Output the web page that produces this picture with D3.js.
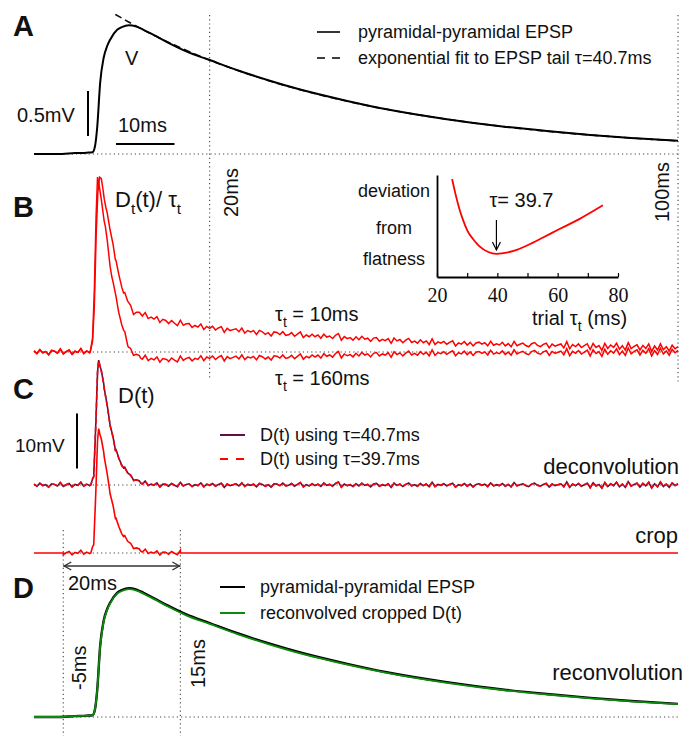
<!DOCTYPE html>
<html><head><meta charset="utf-8">
<script src="https://cdn.jsdelivr.net/npm/d3@7"></script>
<style>
body{margin:0;background:#fff}
svg{display:block;background:#fff}
text{font-family:"Liberation Sans",Arial,Helvetica,sans-serif;fill:#111}
</style>
</head><body>
<svg id="fig" width="692" height="736"></svg>
<script>
// ---------------- data ----------------
// Panel A / D : pyramidal-pyramidal EPSP (time ms, mV)
const epspT = [-10,-6,-3,-1,0,0.4,0.8,1.3,1.9,2.5,3,4.2,5,6.2,7.5,8.7,10.5,12.8,16,20,25,30,35,43.5,50,60.5,70,77.6,85,92,100];
const epspV = [0,0,0.01,0.015,0.02,0.08,0.3,0.79,1.07,1.2,1.27,1.38,1.41,1.43,1.415,1.38,1.32,1.24,1.14,1.044,0.925,0.82,0.725,0.59,0.50,0.387,0.306,0.255,0.212,0.178,0.146];
// exponential fit to tail (tau = 40.7 ms)
const fitT = [3.9,6,8,10,15,20,30,40,50,60,70,80,90,100];
const fitV = [1.551,1.473,1.402,1.335,1.181,1.044,0.817,0.639,0.500,0.391,0.306,0.239,0.187,0.146];
// Panel D : reconvolved cropped D(t)
const reconvV = [0,0,0.01,0.015,0.02,0.08,0.3,0.78,1.06,1.19,1.26,1.37,1.40,1.42,1.405,1.37,1.31,1.23,1.13,1.034,0.915,0.81,0.715,0.582,0.493,0.38,0.30,0.25,0.207,0.173,0.142];
// Panel B : D_t(t)/tau_t for trial tau 10 ms and 160 ms (smooth part)
const b10T = [-10,-0.4,0,0.3,0.6,0.9,1.2,1.4,1.8,2.3,3.0,3.9,5.3,7,10,13,20,30,43.5,60,77,100];
const b10V = [0,0,0.03,0.15,0.38,0.53,0.583,0.58,0.54,0.48,0.417,0.307,0.197,0.133,0.115,0.1,0.08,0.063,0.047,0.03,0.023,0.013];
const b160T = [-10,-0.4,0,0.3,0.6,0.85,1.1,1.5,2.2,3.3,4.4,5.3,6.1,7,8.2,12.8,20,35,43.5,60,100];
const b160V = [0,0,0.04,0.2,0.45,0.583,0.56,0.5,0.417,0.25,0.14,0.073,0.017,-0.003,-0.02,-0.027,-0.02,-0.017,-0.01,-0.004,0];
// Panel C : D(t) in mV (smooth part)
const dT = [-10,-0.3,0.2,0.6,0.85,1.05,1.3,1.9,2.8,3.9,5.3,6.8,8.2,10,12,100];
const dPurpleV = [0,0,1.5,12.4,20.5,22.7,21.5,18.5,12.4,6.4,3.1,1.3,0.4,0.1,0,0];
const dRedV = [0,0,1.5,12.3,20.4,22.6,21.4,18.4,12.3,6.3,3.0,1.25,0.38,0.1,0,0];
// recording noise seen on the deconvolved traces, every 0.5 ms from -10 to 100 ms
const noiseStart = -10, noiseStep = 0.5;
const noise = [
0.3,-0.4,0.6,-0.2,0.1,-0.7,0.4,0.2,-0.3,0.8,
-0.5,0.1,0.5,-0.6,0.2,-0.1,0.9,-0.4,0.3,-0.2,
0.4,-0.3,0.1,0.6,-0.5,0.2,-0.8,0.3,0.5,-0.2,
-0.4,0.7,-0.1,0.3,-0.6,0.2,0.4,-0.3,0.8,-0.5,
0.1,-0.2,0.6,-0.7,0.3,0.2,-0.4,0.5,-0.1,-0.6,
0.9,-0.3,0.2,0.4,-0.5,0.1,-0.2,0.7,-0.6,0.3,
-0.1,0.5,-0.4,0.2,0.6,-0.8,0.3,-0.2,0.1,0.4,
-0.3,0.7,-0.5,0.2,-0.1,0.3,-0.6,0.5,0.2,-0.4,
0.1,-0.7,0.4,0.3,-0.2,0.6,-0.3,-0.1,0.5,-0.4,
0.2,0.8,-0.6,0.1,-0.3,0.4,-0.2,0.3,-0.5,0.6,
-0.1,0.2,-0.4,0.5,1.0,-0.7,0.3,-0.2,0.1,-0.5,
0.4,-0.3,0.6,-0.1,0.2,-0.6,0.3,0.5,-0.4,0.1,
-0.2,0.4,-0.8,0.6,-0.1,0.3,-0.5,0.2,0.7,-0.3,
0.1,-0.4,0.5,-0.2,0.3,-0.6,0.9,-0.5,0.2,-0.1,
0.4,-0.3,0.2,0.6,-0.7,0.1,-0.2,0.5,-0.4,0.3,
-0.6,0.2,0.4,-0.1,0.3,-0.5,0.7,-0.3,0.1,-0.2,
0.5,-0.4,0.2,-0.6,0.8,-0.3,0.1,0.4,-0.2,-0.5,
0.3,0.6,-0.1,-0.4,0.2,0.5,-0.7,0.3,-0.2,0.1,
0.4,-0.6,1.0,-0.8,0.3,-0.2,0.5,-0.4,0.1,0.6,
-0.9,0.7,-0.3,0.2,-1.0,0.8,-0.5,0.4,-0.2,0.9,
-0.6,0.3,-0.8,1.1,-0.4,0.2,0.6,-0.7,0.5,-0.3,
0.9,-1.0,0.4,-0.6,1.0,-0.5,0.3,-0.8,0.7,-0.2,
0.4];
const noiseAmpB = 0.013;   // units of panel B
const noiseAmpC = 0.55;    // mV
// crop window
const cropWindow = [-5, 15];
// Inset: deviation from flatness vs trial tau
const insetT = [25,26,27.4,28.5,30.1,32,34,37,39.6,42,45.1,51.8,55,60.6,67.3,75];
const insetV = [0.96,0.83,0.67,0.57,0.453,0.37,0.303,0.245,0.227,0.233,0.253,0.337,0.385,0.47,0.57,0.703];
const insetTicks = [20,30,40,50,60,70,80];
const insetBestTau = 39.7;

// ---------------- drawing ----------------
const svg = d3.select('#fig');
const RED = '#ff0000', PURPLE = '#5e1148', GREEN = '#0b8a0b', DOT = '#444';

const x = d3.scaleLinear().domain([-10,100]).range([34,678]);
const yA = d3.scaleLinear().domain([0,1]).range([154,64]);
const yB = d3.scaleLinear().domain([0,1]).range([352,52]);
const yC = d3.scaleLinear().domain([0,10]).range([485,430]);
const yCrop = d3.scaleLinear().domain([0,10]).range([553,498]);
const yD = d3.scaleLinear().domain([0,1]).range([717,627]);

const noiseT = noise.map((_, i) => noiseStart + i*noiseStep);
function noisyTrace(keyT, keyV, amp, t0, t1){
  const clean = d3.scaleLinear().domain(keyT).range(keyV).clamp(true);
  const pts = [];
  noiseT.forEach((t,i)=>{ if(t>=t0-1e-9 && t<=t1+1e-9) pts.push([t, clean(t) + noise[i]*amp]); });
  keyT.forEach(t=>{ if(t>t0 && t<t1 && Math.abs((t-noiseStart)/noiseStep - Math.round((t-noiseStart)/noiseStep))>1e-6) pts.push([t, clean(t)]); });
  pts.sort((a,b)=>a[0]-b[0]);
  return pts;
}
function dotted(x1,y1,x2,y2){
  svg.append('line').attr('x1',x1).attr('y1',y1).attr('x2',x2).attr('y2',y2)
    .attr('stroke',DOT).attr('stroke-width',1.1).attr('stroke-dasharray','1.2,3');
}
function rich(x0,y0,parts,size,anchor){
  const t = svg.append('text').attr('x',x0).attr('y',y0).attr('font-size',size);
  if(anchor) t.attr('text-anchor',anchor);
  let sub=false;
  parts.forEach(p=>{
    const s=t.append('tspan').text(p.t);
    if(p.sub){ s.attr('font-size',size*0.7); if(!sub){ s.attr('dy',size*0.32); sub=true; } }
    else if(sub){ s.attr('dy',-size*0.32); sub=false; }
  });
  return t;
}
function label(x0,y0,txt,size,opts={}){
  const t=svg.append('text').attr('x',x0).attr('y',y0).attr('font-size',size).text(txt);
  if(opts.anchor) t.attr('text-anchor',opts.anchor);
  if(opts.bold) t.attr('font-weight','bold');
  if(opts.family) t.style('font-family',opts.family);
  return t;
}
function vlabel(x0,y0,txt,size){
  svg.append('text').attr('transform',`translate(${x0},${y0}) rotate(-90)`).attr('font-size',size).text(txt);
}

// dotted reference lines
dotted(x(-10),yA(0),x(100),yA(0));
dotted(x(-10),yB(0),x(100),yB(0));
dotted(x(-10),yC(0),x(100),yC(0));
dotted(x(cropWindow[0]),yCrop(0),x(cropWindow[1]),yCrop(0));
dotted(x(-10),yD(0),x(100),yD(0));
dotted(x(20),15,x(20),378);
dotted(x(100),15,x(100),383);
dotted(x(cropWindow[0]),530,x(cropWindow[0]),736);
dotted(x(cropWindow[1]),530,x(cropWindow[1]),736);

// ---- Panel A
const lineA = d3.line().curve(d3.curveMonotoneX).x(d=>x(d[0])).y(d=>yA(d[1]));
svg.append('path').attr('d',lineA(d3.zip(fitT,fitV))).attr('fill','none').attr('stroke','#111').attr('stroke-width',1.6).attr('stroke-dasharray','7,4');
svg.append('path').attr('d',lineA(d3.zip(epspT,epspV))).attr('fill','none').attr('stroke','#000').attr('stroke-width',2);
label(13,36,'A',29,{bold:true});
label(125,65,'V',20);
// scale bars
svg.append('line').attr('x1',88).attr('x2',88).attr('y1',yA(0.2)).attr('y2',yA(0.7)).attr('stroke','#000').attr('stroke-width',2);
label(17,122,'0.5mV',20);
svg.append('line').attr('x1',x(4)).attr('x2',x(14)).attr('y1',144).attr('y2',144).attr('stroke','#000').attr('stroke-width',2);
label(118,132,'10ms',20);
// legend A
svg.append('line').attr('x1',317).attr('x2',340).attr('y1',32).attr('y2',32).attr('stroke','#000').attr('stroke-width',1.6);
svg.append('line').attr('x1',317).attr('x2',340).attr('y1',58).attr('y2',58).attr('stroke','#000').attr('stroke-width',1.6).attr('stroke-dasharray','8,7');
label(358,38,'pyramidal-pyramidal EPSP',18);
label(358,64,'exponential fit to EPSP tail τ=40.7ms',18);

// ---- Panel B
const lineB = d3.line().x(d=>x(d[0])).y(d=>yB(d[1]));
svg.append('path').attr('d',lineB(noisyTrace(b160T,b160V,noiseAmpB,-10,100))).attr('fill','none').attr('stroke',RED).attr('stroke-width',1.5);
svg.append('path').attr('d',lineB(noisyTrace(b10T,b10V,noiseAmpB,-10,100))).attr('fill','none').attr('stroke',RED).attr('stroke-width',1.5);
label(13,217,'B',29,{bold:true});
rich(115,207,[{t:'D'},{t:'t',sub:true},{t:'(t)/ τ'},{t:'t',sub:true}],22);
rich(275,321,[{t:'τ'},{t:'t',sub:true},{t:' = 10ms'}],20);
rich(275,385,[{t:'τ'},{t:'t',sub:true},{t:' = 160ms'}],20);
vlabel(x(20)+28,217,'20ms',20);
vlabel(x(100)-9,222,'100ms',20);

// inset
const xi = d3.scaleLinear().domain([20,80]).range([437,618]);
const yi = d3.scaleLinear().domain([0,1]).range([277,175]);
const gi = svg.append('g');
const ax = gi.append('g').attr('transform','translate(0,277)')
  .call(d3.axisBottom(xi).tickValues(insetTicks).tickSizeInner(-4).tickSizeOuter(0).tickPadding(11)
  .tickFormat(d=> d%20===0 ? d : ''));
ax.select('.domain').attr('stroke','#000').attr('stroke-width',1.8);
ax.selectAll('.tick line').attr('stroke','#000').attr('stroke-width',1.2);
ax.selectAll('.tick text').attr('font-size',20).style('font-family','"Liberation Serif","Times New Roman",serif').attr('fill','#111');
const ay = gi.append('g').attr('transform','translate(437,0)').call(d3.axisLeft(yi).tickValues([]).tickSizeOuter(0));
ay.select('.domain').attr('stroke','#000').attr('stroke-width',1.8);
gi.append('path').attr('d',d3.line().curve(d3.curveMonotoneX).x(d=>xi(d[0])).y(d=>yi(d[1]))(d3.zip(insetT,insetV)))
  .attr('fill','none').attr('stroke',RED).attr('stroke-width',1.8);
label(394,197,'deviation',18,{anchor:'middle'});
label(394,234,'from',18,{anchor:'middle'});
label(394,265,'flatness',18,{anchor:'middle'});
label(xi(insetBestTau)-7,207,'τ= 39.7',20);
const ax0 = xi(insetBestTau);
svg.append('line').attr('x1',ax0).attr('x2',ax0).attr('y1',220).attr('y2',250).attr('stroke','#000').attr('stroke-width',1.2);
svg.append('path').attr('d',`M${ax0-4},${242}L${ax0},${250}L${ax0+4},${242}`).attr('fill','none').attr('stroke','#000').attr('stroke-width',1.2);
rich(532,325,[{t:'trial τ'},{t:'t',sub:true},{t:' (ms)'}],20);

// ---- Panel C
const lineC = d3.line().x(d=>x(d[0])).y(d=>yC(d[1]));
svg.append('path').attr('d',lineC(noisyTrace(dT,dPurpleV,noiseAmpC,-10,100))).attr('fill','none').attr('stroke',PURPLE).attr('stroke-width',1.6);
svg.append('path').attr('d',lineC(noisyTrace(dT,dRedV,noiseAmpC,-10,100))).attr('fill','none').attr('stroke',RED).attr('stroke-width',1.6).attr('stroke-dasharray','5,3');
// crop trace
const cropPts = [[-10,0],[cropWindow[0],0]].concat(noisyTrace(dT,dRedV,noiseAmpC,cropWindow[0],cropWindow[1])).concat([[cropWindow[1],0],[100,0]]);
svg.append('path').attr('d',d3.line().x(d=>x(d[0])).y(d=>yCrop(d[1]))(cropPts)).attr('fill','none').attr('stroke',RED).attr('stroke-width',1.6);
label(13,399,'C',29,{bold:true});
label(118,403,'D(t)',22);
svg.append('line').attr('x1',77).attr('x2',77).attr('y1',yC(3)).attr('y2',yC(13)).attr('stroke','#000').attr('stroke-width',2);
label(15,452,'10mV',19);
svg.append('line').attr('x1',220).attr('x2',245).attr('y1',435).attr('y2',435).attr('stroke',PURPLE).attr('stroke-width',2);
svg.append('line').attr('x1',220).attr('x2',245).attr('y1',459).attr('y2',459).attr('stroke',RED).attr('stroke-width',2).attr('stroke-dasharray','8,8');
label(260,441,'D(t) using τ=40.7ms',18);
label(260,465,'D(t) using τ=39.7ms',18);
label(679,474,'deconvolution',22,{anchor:'end'});
label(678,543,'crop',22,{anchor:'end'});
// 20 ms double arrow
const xa0 = x(cropWindow[0]), xa1 = x(cropWindow[1]), ya = 566;
svg.append('line').attr('x1',xa0).attr('x2',xa1).attr('y1',ya).attr('y2',ya).attr('stroke','#333').attr('stroke-width',1.4);
svg.append('path').attr('d',`M${xa0+8},${ya-4}L${xa0+1},${ya}L${xa0+8},${ya+4}M${xa1-8},${ya-4}L${xa1-1},${ya}L${xa1-8},${ya+4}`)
  .attr('fill','none').attr('stroke','#333').attr('stroke-width',1.4);
label(68,590,'20ms',20);

// ---- Panel D
const lineD = d3.line().curve(d3.curveMonotoneX).x(d=>x(d[0])).y(d=>yD(d[1]));
svg.append('path').attr('d',lineD(d3.zip(epspT,epspV))).attr('fill','none').attr('stroke','#000').attr('stroke-width',2.4);
svg.append('path').attr('d',lineD(d3.zip(epspT,reconvV))).attr('fill','none').attr('stroke',GREEN).attr('stroke-width',1.8);
label(13,598,'D',29,{bold:true});
svg.append('line').attr('x1',220).attr('x2',245).attr('y1',587).attr('y2',587).attr('stroke','#000').attr('stroke-width',2);
svg.append('line').attr('x1',220).attr('x2',245).attr('y1',613).attr('y2',613).attr('stroke',GREEN).attr('stroke-width',2);
label(260,593,'pyramidal-pyramidal EPSP',18);
label(260,619,'reconvolved cropped D(t)',18);
label(683,680,'reconvolution',22,{anchor:'end'});
vlabel(x(cropWindow[0])+23,690,'-5ms',20);
vlabel(x(cropWindow[1])+25,688,'15ms',20);
</script>
</body></html>
